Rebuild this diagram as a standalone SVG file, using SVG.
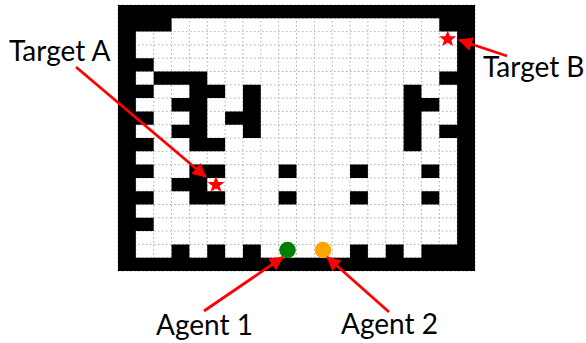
<svg xmlns="http://www.w3.org/2000/svg" width="586" height="343" viewBox="0 0 586 343">
<defs>
<marker id="head" viewBox="0 0 10 10" refX="9.500" refY="5" markerWidth="5" markerHeight="5" markerUnits="strokeWidth" orient="auto"><path d="M0 0L10 5L0 10z" fill="#f00"/></marker>
<polygon id="star" points="0,-8.500 2.300,-2.700 8.500,-2.700 3.700,1.200 5.400,7 0,3.700 -5.400,7 -3.700,1.200 -8.500,-2.700 -2.300,-2.700" fill="#f00"/>
</defs>
<style>
.lbl{font-family:Lato,"Open Sans","Liberation Sans",sans-serif;font-size:28px;fill:#000}
.wire{stroke:#f00;stroke-width:2.800;fill:none;marker-end:url(#head)}
</style>
<rect width="586" height="343" fill="#fff"/>
<g id="grid" transform="translate(118 5) scale(17.85 13.3)">
<path fill="none" stroke="#aaa" stroke-width="1" stroke-dasharray="1.500 2.500" vector-effect="non-scaling-stroke" d="M0 0V20M1 0V20M2 0V20M3 0V20M4 0V20M5 0V20M6 0V20M7 0V20M8 0V20M9 0V20M10 0V20M11 0V20M12 0V20M13 0V20M14 0V20M15 0V20M16 0V20M17 0V20M18 0V20M19 0V20M20 0V20M0 0H20M0 1H20M0 2H20M0 3H20M0 4H20M0 5H20M0 6H20M0 7H20M0 8H20M0 9H20M0 10H20M0 11H20M0 12H20M0 13H20M0 14H20M0 15H20M0 16H20M0 17H20M0 18H20M0 19H20M0 20H20"/>
<path fill="#000" d="M0 0H20V1H0z
M0 1H3V2H0zM18 1H20V2H18z
M0 2H1V4H0zM19 2H20V4H19z
M0 4H2V5H0zM19 4H20V5H19z
M0 5H1V6H0zM2 5H5V6H2zM18 5H20V6H18z
M0 6H2V7H0zM4 6H6V7H4zM7 6H8V7H7zM16 6H17V7H16zM19 6H20V7H19z
M0 7H1V8H0zM3 7H5V8H3zM7 7H8V8H7zM16 7H18V8H16zM19 7H20V8H19z
M0 8H2V9H0zM4 8H5V9H4zM6 8H8V9H6zM16 8H17V9H16zM19 8H20V9H19z
M0 9H1V10H0zM3 9H5V10H3zM7 9H8V10H7zM16 9H17V10H16zM18 9H20V10H18z
M0 10H2V11H0zM4 10H6V11H4zM16 10H17V11H16zM19 10H20V11H19z
M0 11H1V12H0zM19 11H20V12H19z
M0 12H2V13H0zM4 12H6V13H4zM9 12H10V13H9zM13 12H14V13H13zM17 12H18V13H17zM19 12H20V13H19z
M0 13H1V14H0zM3 13H5V14H3zM19 13H20V14H19z
M0 14H2V15H0zM4 14H6V15H4zM9 14H10V15H9zM13 14H14V15H13zM17 14H18V15H17zM19 14H20V15H19z
M0 15H1V16H0zM19 15H20V16H19z
M0 16H2V17H0zM19 16H20V17H19z
M0 17H1V18H0zM19 17H20V18H19z
M0 18H1V19H0zM3 18H4V19H3zM5 18H6V19H5zM7 18H8V19H7zM13 18H14V19H13zM15 18H16V19H15zM17 18H20V19H17z
M0 19H20V20H0z"/>
</g>
<g id="target-a"><use href="#star" x="216" y="184.700"/><text class="lbl" x="9" y="61">Target A</text></g>
<g id="target-b"><use href="#star" x="447.700" y="39"/><text class="lbl" x="483" y="77">Target B</text></g>
<g id="agent-1"><circle cx="287.500" cy="250" r="8.300" fill="#008000"/><text class="lbl" x="156" y="335">Agent 1</text></g>
<g id="agent-2"><circle cx="323" cy="250" r="8.300" fill="#ffa500"/><text class="lbl" x="341" y="334">Agent 2</text></g>
<g id="connectors">
<path class="wire" d="M76 67L206 177"/>
<path class="wire" d="M507 56L459 40"/>
<path class="wire" d="M204 311L283 257"/>
<path class="wire" d="M389 312L327 257"/>
</g>
</svg>
